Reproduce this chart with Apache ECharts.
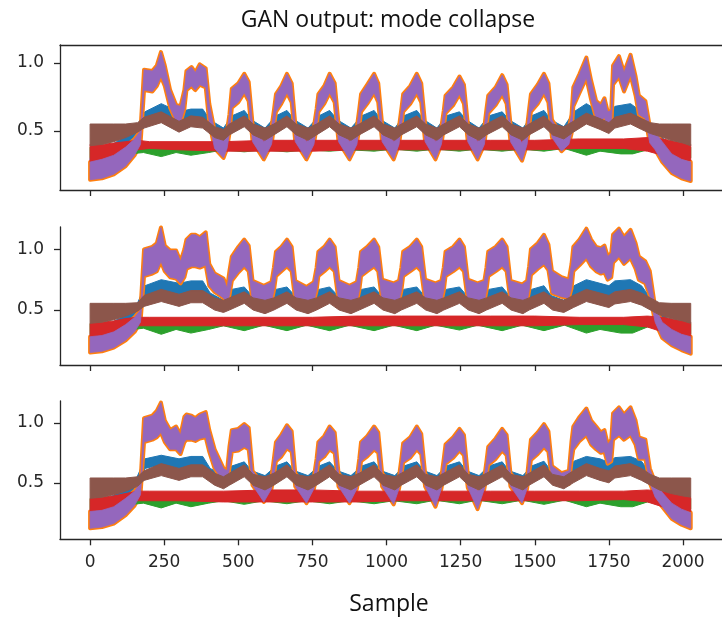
<!DOCTYPE html>
<html><head><meta charset="utf-8">
<script src="https://cdn.jsdelivr.net/npm/echarts@6/dist/echarts.min.js"></script>
<style>html,body{margin:0;padding:0;background:#fff}#c{width:722px;height:620px}</style>
</head><body><div id="c"></div><script>
// ---------- tick labels ----------
const X_TICKS = [0, 250, 500, 750, 1000, 1250, 1500, 1750, 2000];
const Y_TICKS = [0.5, 1.0];
const TITLE = 'GAN output: mode collapse';
const X_NAME = 'Sample';

// ---------- purple (and orange, which sits just under it) envelopes ----------
const P_X = [0,40,80,120,150,170,182,210,225,239,252,270,290,305,318,325,342,355,370,390,402,420,450,462,
470,478,500,520,535,548,586,612,
620,627,645,664,680,692,730,755,
764,770,790,808,825,838,875,900,
908,914,935,958,972,985,1024,1042,
1050,1056,1080,1102,1117,1130,1165,1185,
1193,1199,1225,1246,1261,1274,1307,1330,
1337,1343,1368,1390,1405,1418,1457,1474,
1481,1487,1510,1531,1546,1558,1590,1615,
1624,1630,1651,1674,1690,1707,1723,1735,1746,1758,
1764,1784,1801,1823,1840,1851,1873,1888,1906,1930,1962,1995,2026];

const P1_PURPLE_HI = [0.27,0.29,0.32,0.38,0.44,0.50,0.95,0.94,0.98,1.08,0.98,0.80,0.69,0.68,0.80,0.94,0.97,0.93,0.99,0.96,0.70,0.50,0.43,0.50,
0.62,0.81,0.85,0.92,0.86,0.55,0.42,0.53,
0.65,0.77,0.83,0.92,0.85,0.55,0.42,0.53,
0.66,0.77,0.83,0.92,0.85,0.55,0.42,0.53,
0.66,0.77,0.84,0.92,0.85,0.55,0.42,0.53,
0.66,0.77,0.83,0.92,0.85,0.55,0.42,0.53,
0.65,0.76,0.82,0.90,0.84,0.55,0.42,0.53,
0.66,0.76,0.82,0.91,0.84,0.55,0.41,0.53,
0.66,0.77,0.84,0.92,0.85,0.58,0.47,0.52,
0.62,0.82,0.92,1.04,0.87,0.72,0.69,0.74,0.64,0.65,
0.98,1.05,0.93,1.06,0.90,0.76,0.72,0.53,0.49,0.42,0.33,0.29,0.27];
const P1_PURPLE_LO = [0.14,0.15,0.18,0.24,0.32,0.40,0.80,0.79,0.83,0.90,0.83,0.67,0.57,0.56,0.66,0.80,0.83,0.80,0.84,0.82,0.56,0.37,0.30,0.37,
0.48,0.67,0.71,0.78,0.72,0.42,0.29,0.40,
0.52,0.64,0.70,0.78,0.71,0.42,0.29,0.40,
0.53,0.64,0.70,0.78,0.71,0.42,0.29,0.40,
0.53,0.64,0.70,0.78,0.71,0.42,0.29,0.40,
0.53,0.64,0.70,0.78,0.71,0.42,0.29,0.40,
0.52,0.63,0.69,0.77,0.70,0.42,0.29,0.40,
0.53,0.63,0.69,0.77,0.70,0.42,0.28,0.40,
0.53,0.64,0.70,0.78,0.71,0.45,0.35,0.40,
0.48,0.68,0.78,0.89,0.73,0.59,0.57,0.60,0.51,0.52,
0.84,0.90,0.79,0.91,0.76,0.62,0.59,0.41,0.36,0.27,0.19,0.15,0.13];

const P2_PURPLE_HI = [0.28,0.29,0.32,0.38,0.44,0.50,1.00,1.02,1.05,1.18,1.03,0.99,0.99,0.90,1.00,1.08,1.12,1.12,1.10,1.14,0.88,0.80,0.76,0.68,
0.82,0.94,1.02,1.08,1.03,0.74,0.70,0.73,
0.85,0.98,1.02,1.08,1.02,0.74,0.69,0.73,
0.85,0.98,1.02,1.08,1.02,0.74,0.70,0.73,
0.85,0.98,1.02,1.08,1.02,0.75,0.72,0.74,
0.85,0.98,1.02,1.08,1.02,0.75,0.72,0.74,
0.85,0.98,1.02,1.08,1.02,0.75,0.72,0.74,
0.85,0.98,1.02,1.08,1.02,0.74,0.71,0.74,
0.86,1.00,1.05,1.12,1.04,0.82,0.77,0.75,
0.88,1.02,1.08,1.17,1.08,1.02,1.01,1.03,0.94,0.97,
1.12,1.17,1.10,1.16,1.05,0.94,0.90,0.82,0.52,0.40,0.34,0.30,0.28];
const P2_PURPLE_LO = [0.15,0.16,0.19,0.25,0.32,0.40,0.78,0.80,0.82,0.90,0.82,0.77,0.76,0.72,0.77,0.84,0.86,0.86,0.85,0.87,0.70,0.65,0.60,0.56,
0.62,0.74,0.81,0.86,0.82,0.57,0.55,0.57,
0.66,0.78,0.82,0.86,0.82,0.58,0.55,0.57,
0.66,0.78,0.82,0.86,0.82,0.58,0.56,0.57,
0.66,0.78,0.82,0.86,0.82,0.58,0.56,0.57,
0.66,0.78,0.82,0.86,0.82,0.58,0.56,0.57,
0.66,0.78,0.82,0.86,0.82,0.58,0.56,0.57,
0.66,0.78,0.82,0.86,0.82,0.58,0.56,0.57,
0.66,0.79,0.84,0.88,0.83,0.64,0.61,0.60,
0.68,0.82,0.87,0.93,0.86,0.82,0.80,0.81,0.75,0.77,
0.89,0.94,0.88,0.93,0.84,0.75,0.72,0.62,0.40,0.27,0.21,0.17,0.14];

const P3_PURPLE_HI = [0.26,0.27,0.30,0.37,0.43,0.50,1.04,1.06,1.10,1.17,1.02,0.94,0.97,0.90,1.05,1.07,1.06,1.04,1.07,1.09,0.94,0.78,0.62,0.60,
0.80,0.94,0.95,0.99,0.96,0.60,0.47,0.55,
0.70,0.84,0.90,0.98,0.93,0.58,0.46,0.55,
0.70,0.84,0.89,0.97,0.92,0.58,0.46,0.55,
0.70,0.84,0.89,0.97,0.92,0.58,0.45,0.55,
0.70,0.83,0.88,0.97,0.91,0.58,0.44,0.55,
0.70,0.82,0.88,0.95,0.90,0.57,0.43,0.55,
0.68,0.80,0.87,0.95,0.90,0.58,0.46,0.55,
0.72,0.86,0.92,0.99,0.93,0.64,0.58,0.60,
0.85,0.97,1.05,1.12,1.02,0.97,0.92,0.94,0.82,0.86,
1.08,1.13,1.07,1.13,1.02,0.88,0.86,0.62,0.50,0.42,0.33,0.28,0.25];
const P3_PURPLE_LO = [0.12,0.13,0.16,0.23,0.31,0.40,0.84,0.86,0.88,0.92,0.84,0.78,0.78,0.74,0.84,0.86,0.86,0.85,0.87,0.88,0.76,0.62,0.51,0.50,
0.62,0.76,0.77,0.80,0.78,0.48,0.34,0.45,
0.56,0.68,0.72,0.79,0.76,0.47,0.33,0.45,
0.56,0.68,0.72,0.78,0.75,0.47,0.33,0.45,
0.56,0.68,0.72,0.78,0.75,0.47,0.32,0.45,
0.56,0.67,0.71,0.78,0.74,0.47,0.30,0.45,
0.56,0.66,0.71,0.77,0.73,0.46,0.28,0.45,
0.55,0.65,0.70,0.77,0.73,0.47,0.33,0.45,
0.58,0.69,0.74,0.80,0.76,0.52,0.48,0.49,
0.68,0.78,0.85,0.90,0.82,0.78,0.75,0.76,0.66,0.68,
0.86,0.90,0.86,0.90,0.82,0.70,0.70,0.50,0.38,0.30,0.20,0.15,0.12];

// ---------- blue envelopes ----------
const B_X = [0,150,185,240,300,340,380,405,450,
478,520,545,590, 627,664,690,735, 772,808,835,880, 916,958,982,1028,
1058,1102,1127,1170, 1201,1246,1270,1312, 1345,1390,1414,1460, 1489,1531,1555,1598,
1632,1674,1720,1750,1770,1823,1860,1890,1950,2026];
const P1_BLUE_HI = [0.30,0.50,0.64,0.70,0.64,0.66,0.66,0.58,0.52,
0.61,0.65,0.58,0.52, 0.61,0.65,0.58,0.52, 0.61,0.65,0.58,0.52, 0.61,0.65,0.58,0.52,
0.61,0.65,0.58,0.52, 0.61,0.64,0.58,0.52, 0.61,0.64,0.58,0.52, 0.61,0.65,0.58,0.53,
0.64,0.70,0.64,0.62,0.68,0.70,0.64,0.56,0.40,0.28];
const P1_BLUE_LO = [0.22,0.42,0.56,0.61,0.56,0.58,0.58,0.50,0.44,
0.53,0.57,0.50,0.44, 0.53,0.57,0.50,0.44, 0.53,0.57,0.50,0.44, 0.53,0.57,0.50,0.44,
0.53,0.57,0.50,0.44, 0.53,0.57,0.50,0.44, 0.53,0.57,0.50,0.44, 0.53,0.57,0.50,0.44,
0.56,0.61,0.56,0.54,0.59,0.61,0.56,0.48,0.32,0.24];
const P2_BLUE_HI = [0.30,0.50,0.70,0.75,0.72,0.74,0.74,0.64,0.58,
0.67,0.69,0.62,0.58, 0.67,0.69,0.62,0.58, 0.67,0.69,0.62,0.58, 0.67,0.69,0.62,0.58,
0.67,0.69,0.62,0.58, 0.67,0.69,0.62,0.58, 0.67,0.69,0.62,0.58, 0.67,0.70,0.62,0.58,
0.70,0.75,0.72,0.70,0.74,0.75,0.70,0.60,0.42,0.28];
const P2_BLUE_LO = [0.22,0.42,0.61,0.65,0.63,0.65,0.65,0.55,0.49,
0.58,0.60,0.53,0.49, 0.58,0.60,0.53,0.49, 0.58,0.60,0.53,0.49, 0.58,0.60,0.53,0.49,
0.58,0.60,0.53,0.49, 0.58,0.60,0.53,0.49, 0.58,0.60,0.53,0.49, 0.58,0.60,0.53,0.49,
0.61,0.65,0.63,0.61,0.65,0.65,0.61,0.51,0.34,0.24];
const P3_BLUE_HI = [0.28,0.50,0.70,0.73,0.70,0.72,0.72,0.62,0.56,
0.64,0.675,0.60,0.56, 0.64,0.675,0.60,0.56, 0.64,0.675,0.60,0.56, 0.64,0.675,0.60,0.56,
0.64,0.675,0.60,0.56, 0.64,0.675,0.60,0.56, 0.64,0.675,0.60,0.56, 0.64,0.68,0.60,0.56,
0.68,0.72,0.70,0.67,0.71,0.72,0.68,0.58,0.40,0.27];
const P3_BLUE_LO = [0.21,0.42,0.62,0.65,0.62,0.64,0.64,0.54,0.48,
0.56,0.60,0.52,0.48, 0.56,0.60,0.52,0.48, 0.56,0.60,0.52,0.48, 0.56,0.60,0.52,0.48,
0.56,0.60,0.52,0.48, 0.56,0.60,0.52,0.48, 0.56,0.60,0.52,0.48, 0.56,0.60,0.52,0.48,
0.60,0.64,0.62,0.59,0.63,0.64,0.60,0.50,0.32,0.23];

// ---------- brown envelopes ----------
const BR_X = [0,40,80,120,160,182,240,300,340,380,420,450,
470,520,550,590, 620,664,695,735, 764,808,840,880, 908,958,988,1028,
1050,1102,1132,1170, 1193,1246,1276,1312, 1337,1390,1420,1460, 1481,1531,1560,1598,
1630,1674,1720,1750,1770,1823,1860,1890,1920,1960,2000,2026];
const P1_BROWN_HI = [0.55,0.55,0.55,0.55,0.56,0.60,0.64,0.57,0.61,0.60,0.53,0.51,
0.55,0.61,0.55,0.52, 0.55,0.61,0.55,0.52, 0.55,0.61,0.55,0.52, 0.55,0.61,0.55,0.52,
0.55,0.61,0.55,0.52, 0.55,0.61,0.55,0.52, 0.55,0.61,0.55,0.52, 0.55,0.61,0.55,0.53,
0.57,0.63,0.59,0.56,0.60,0.63,0.59,0.56,0.55,0.55,0.55,0.55];
const P1_BROWN_LO = [0.39,0.40,0.42,0.45,0.49,0.52,0.56,0.49,0.53,0.52,0.45,0.43,
0.47,0.53,0.47,0.43, 0.47,0.53,0.47,0.43, 0.47,0.53,0.47,0.43, 0.47,0.53,0.47,0.43,
0.47,0.53,0.47,0.43, 0.47,0.53,0.47,0.43, 0.47,0.53,0.47,0.43, 0.47,0.53,0.47,0.44,
0.49,0.55,0.51,0.48,0.52,0.55,0.51,0.48,0.46,0.43,0.41,0.39];
const P2_BROWN_HI = [0.555,0.555,0.555,0.555,0.56,0.62,0.67,0.63,0.66,0.66,0.60,0.58,
0.60,0.65,0.60,0.58, 0.60,0.65,0.60,0.58, 0.60,0.65,0.60,0.58, 0.60,0.65,0.60,0.58,
0.60,0.65,0.60,0.58, 0.60,0.65,0.60,0.58, 0.60,0.65,0.60,0.58, 0.60,0.65,0.60,0.58,
0.62,0.67,0.64,0.62,0.65,0.67,0.64,0.60,0.56,0.555,0.555,0.555];
const P2_BROWN_LO = [0.39,0.40,0.42,0.45,0.49,0.53,0.57,0.53,0.56,0.56,0.50,0.48,
0.50,0.555,0.50,0.47, 0.50,0.555,0.50,0.47, 0.50,0.555,0.50,0.47, 0.50,0.555,0.50,0.47,
0.50,0.555,0.50,0.47, 0.50,0.555,0.50,0.47, 0.50,0.555,0.50,0.47, 0.50,0.555,0.50,0.48,
0.52,0.57,0.54,0.52,0.55,0.57,0.54,0.50,0.46,0.43,0.41,0.39];
const P3_BROWN_HI = [0.54,0.54,0.54,0.54,0.55,0.60,0.66,0.62,0.65,0.65,0.58,0.55,
0.58,0.65,0.57,0.55, 0.58,0.65,0.57,0.55, 0.58,0.65,0.57,0.55, 0.58,0.65,0.57,0.55,
0.58,0.65,0.57,0.55, 0.58,0.65,0.57,0.55, 0.58,0.65,0.57,0.55, 0.58,0.65,0.57,0.55,
0.60,0.66,0.62,0.60,0.64,0.66,0.62,0.57,0.54,0.54,0.54,0.54];
const P3_BROWN_LO = [0.37,0.38,0.40,0.43,0.47,0.52,0.56,0.52,0.55,0.55,0.48,0.45,
0.48,0.55,0.48,0.44, 0.48,0.55,0.48,0.44, 0.48,0.55,0.48,0.44, 0.48,0.55,0.48,0.44,
0.48,0.55,0.48,0.44, 0.48,0.55,0.48,0.44, 0.48,0.55,0.48,0.44, 0.48,0.55,0.48,0.45,
0.50,0.56,0.52,0.50,0.54,0.56,0.52,0.48,0.44,0.41,0.39,0.38];

// ---------- red envelopes ----------
const R_X = [0,40,80,120,160,200,300,450,600,750,900,1050,1200,1350,1500,1650,1800,1880,1930,1980,2026];
const P1_RED_HI = [0.40,0.40,0.41,0.42,0.43,0.42,0.42,0.42,0.43,0.43,0.43,0.43,0.43,0.43,0.43,0.44,0.44,0.45,0.44,0.42,0.40];
const P1_RED_LO = [0.27,0.28,0.30,0.33,0.36,0.37,0.36,0.35,0.35,0.35,0.36,0.36,0.36,0.36,0.36,0.37,0.37,0.35,0.32,0.29,0.28];
const P2_RED_HI = [0.39,0.40,0.41,0.43,0.44,0.44,0.44,0.44,0.44,0.44,0.45,0.45,0.45,0.45,0.45,0.44,0.44,0.45,0.44,0.42,0.40];
const P2_RED_LO = [0.28,0.29,0.31,0.34,0.37,0.37,0.37,0.37,0.37,0.37,0.37,0.37,0.37,0.37,0.37,0.38,0.38,0.36,0.32,0.29,0.27];
const P3_RED_HI = [0.37,0.38,0.39,0.41,0.43,0.43,0.43,0.43,0.44,0.44,0.43,0.43,0.43,0.43,0.43,0.43,0.43,0.44,0.43,0.41,0.38];
const P3_RED_LO = [0.26,0.27,0.29,0.32,0.35,0.35,0.35,0.34,0.34,0.34,0.34,0.35,0.35,0.35,0.35,0.35,0.36,0.34,0.30,0.28,0.26];

// ---------- green envelopes ----------
const G_X = [0,180,240,290,340,400,450, 520,586, 664,730, 808,875, 958,1024, 1102,1165, 1246,1307, 1390,1457, 1531,1600,
1674,1720,1790,1830,1880,2026];
const P1_GREEN_HI = [0.38,0.39,0.39,0.39,0.39,0.39,0.39, 0.39,0.39, 0.39,0.39, 0.39,0.39, 0.39,0.39, 0.39,0.39, 0.39,0.39, 0.39,0.39, 0.39,0.39,
0.39,0.39,0.39,0.39,0.40,0.38];
const P1_GREEN_LO = [0.30,0.34,0.31,0.34,0.32,0.34,0.36, 0.345,0.36, 0.345,0.36, 0.35,0.36, 0.35,0.365, 0.35,0.365, 0.35,0.365, 0.35,0.365, 0.35,0.37,
0.32,0.35,0.33,0.33,0.36,0.30];
const P2_GREEN_HI = [0.39,0.40,0.40,0.40,0.40,0.40,0.40, 0.40,0.40, 0.40,0.40, 0.40,0.40, 0.40,0.40, 0.40,0.40, 0.40,0.40, 0.40,0.40, 0.40,0.40,
0.40,0.40,0.40,0.40,0.41,0.39];
const P2_GREEN_LO = [0.30,0.35,0.30,0.34,0.31,0.34,0.37, 0.33,0.375, 0.33,0.375, 0.33,0.375, 0.33,0.375, 0.33,0.375, 0.335,0.375, 0.33,0.375, 0.33,0.375,
0.31,0.34,0.31,0.31,0.36,0.30];
const P3_GREEN_HI = [0.37,0.38,0.38,0.38,0.38,0.38,0.38, 0.38,0.38, 0.38,0.38, 0.38,0.38, 0.38,0.38, 0.38,0.38, 0.38,0.38, 0.38,0.38, 0.38,0.38,
0.38,0.38,0.38,0.38,0.39,0.37];
const P3_GREEN_LO = [0.28,0.33,0.29,0.33,0.30,0.33,0.35, 0.32,0.35, 0.325,0.35, 0.325,0.35, 0.325,0.35, 0.325,0.355, 0.325,0.355, 0.325,0.355, 0.32,0.355,
0.30,0.33,0.30,0.30,0.34,0.28];

// ---------- assemble ----------
const COL = {blue:'#1f77b4', orange:'#ff7f0e', green:'#2ca02c', red:'#d62728', purple:'#9467bd', brown:'#8c564b'};
const PANELS = [
  {purple:[P1_PURPLE_LO,P1_PURPLE_HI], blue:[P1_BLUE_LO,P1_BLUE_HI], brown:[P1_BROWN_LO,P1_BROWN_HI], red:[P1_RED_LO,P1_RED_HI], green:[P1_GREEN_LO,P1_GREEN_HI]},
  {purple:[P2_PURPLE_LO,P2_PURPLE_HI], blue:[P2_BLUE_LO,P2_BLUE_HI], brown:[P2_BROWN_LO,P2_BROWN_HI], red:[P2_RED_LO,P2_RED_HI], green:[P2_GREEN_LO,P2_GREEN_HI]},
  {purple:[P3_PURPLE_LO,P3_PURPLE_HI], blue:[P3_BLUE_LO,P3_BLUE_HI], brown:[P3_BROWN_LO,P3_BROWN_HI], red:[P3_RED_LO,P3_RED_HI], green:[P3_GREEN_LO,P3_GREEN_HI]}
];
const GRIDS = [
  {top:45, height:145, ymin:0.064, ymax:1.132},
  {top:227, height:138, ymin:0.047, ymax:1.184},
  {top:401, height:138.3, ymin:0.028, ymax:1.183}
];
const XMIN = -101.5, XMAX = 2131.5;

// one filled band (region between lo and hi) drawn through the axis scales
function band(gi, xs, lo, hi, color, strokeW) {
  return {
    type:'custom', xAxisIndex:gi, yAxisIndex:gi, silent:true, animation:false,
    data: xs.map((x, i) => [x, lo[i], hi[i]]),
    encode:{x:0, y:[1, 2]},
    renderItem: (params, api) => {
      if (params.dataIndex !== 0) return null;
      const pts = [];
      for (let i = 0; i < xs.length; i++) pts.push(api.coord([xs[i], hi[i]]));
      for (let i = xs.length - 1; i >= 0; i--) pts.push(api.coord([xs[i], lo[i]]));
      return {type:'polygon', shape:{points:pts},
              style:{fill:color, stroke:color, lineWidth:strokeW, lineJoin:'round'}};
    }
  };
}

const series = [];
PANELS.forEach((p, gi) => {
  series.push(band(gi, B_X, p.blue[0], p.blue[1], COL.blue, 1));
  series.push(band(gi, P_X, p.purple[0], p.purple[1], COL.orange, 4));   // orange rim
  series.push(band(gi, G_X, p.green[0], p.green[1], COL.green, 1));
  series.push(band(gi, R_X, p.red[0], p.red[1], COL.red, 1));
  series.push(band(gi, P_X, p.purple[0], p.purple[1], COL.purple, 0.8));
  series.push(band(gi, BR_X, p.brown[0], p.brown[1], COL.brown, 1));
});

const AX = '#262626';
const grid = GRIDS.map(g => ({left:60, width:671, top:g.top, height:g.height}));
const xAxis = GRIDS.map((g, gi) => ({
  gridIndex: gi, type:'value', min:XMIN, max:XMAX, position:'bottom',
  axisLine:{show:true, onZero:false, lineStyle:{color:AX, width:1.3}},
  axisTick:{show:true, length:6, customValues:X_TICKS, lineStyle:{color:AX, width:1.3}},
  axisLabel:{show: gi === 2, customValues:X_TICKS, formatter:v => String(v), margin:15,
             color:AX, fontSize:17, fontFamily:'DejaVu Sans'},
  splitLine:{show:false}
}));
// top spine of the first panel
xAxis.push({gridIndex:0, type:'value', min:XMIN, max:XMAX, position:'top',
  axisLine:{show:true, onZero:false, lineStyle:{color:AX, width:1.3}},
  axisTick:{show:false}, axisLabel:{show:false}, splitLine:{show:false}});
const yAxis = GRIDS.map((g, gi) => ({
  gridIndex: gi, type:'value', min:g.ymin, max:g.ymax,
  axisLine:{show:true, onZero:false, lineStyle:{color:AX, width:1.3}},
  axisTick:{show:true, length:6, customValues:Y_TICKS, lineStyle:{color:AX, width:1.3}},
  axisLabel:{show:true, customValues:Y_TICKS, formatter:v => Number(v).toFixed(1), margin:16,
             color:AX, fontSize:17, fontFamily:'DejaVu Sans'},
  splitLine:{show:false}
}));

const chart = echarts.init(document.getElementById('c'), null, {renderer:'canvas'});
chart.setOption({
  animation:false,
  backgroundColor:'#fff',
  grid, xAxis, yAxis, series,
  graphic:[
    {type:'text', x:388, y:20, style:{text:TITLE, font:'23px "Open Sans"', fill:'#111', align:'center', verticalAlign:'middle'}},
    {type:'text', x:389, y:604, style:{text:X_NAME, font:'23px "Open Sans"', fill:'#111', align:'center', verticalAlign:'middle'}}
  ]
});
</script></body></html>
